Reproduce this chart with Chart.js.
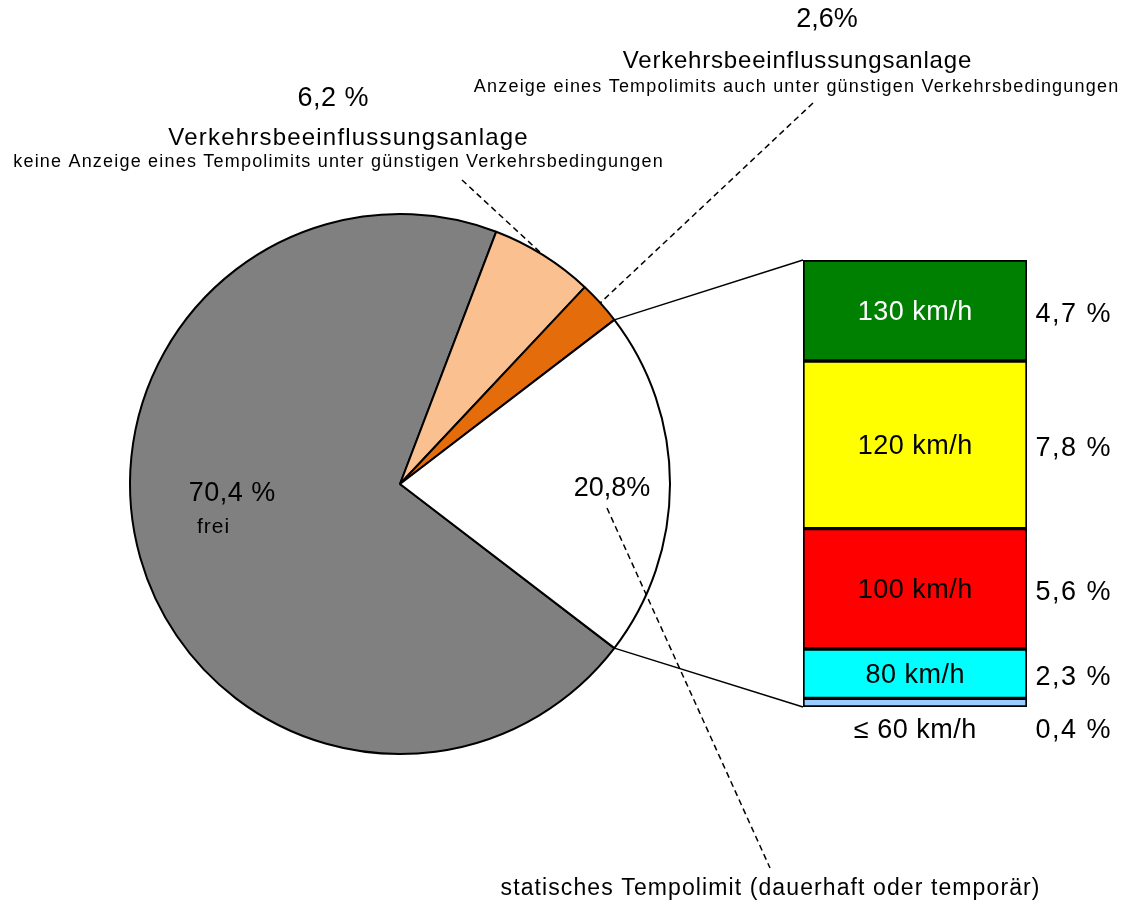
<!DOCTYPE html>
<html>
<head>
<meta charset="utf-8">
<script src="https://cdn.jsdelivr.net/npm/chart.js@4.4.0/dist/chart.umd.min.js"></script>
<style>
  body { margin: 0; background: #fff; }
  #wrap { position: relative; width: 1131px; height: 911px; }
  #wrap canvas { position: absolute; left: 0; top: 0; }
</style>
</head>
<body>
<div id="wrap">
  <canvas id="pie" width="1131" height="911"></canvas>
  <canvas id="bar" width="1131" height="911"></canvas>
</div>
<script>
// ---------- Kreis: Anteile der Streckenlänge ----------
const pieLabels = ["frei", "VBA ohne Anzeige", "VBA mit Anzeige", "statisches Tempolimit"];
const pieValues = [70.4, 6.2, 2.6, 20.8];
const pieTexts = ["70,4 %", "6,2 %", "2,6%", "20,8%"];
const pieColors = ["#808080", "#FAC090", "#E46C0A", "#FFFFFF"];

// ---------- Balken: statische Tempolimits ----------
const barLabels = ["≤ 60 km/h", "80 km/h", "100 km/h", "120 km/h", "130 km/h"];
const barValues = [0.4, 2.3, 5.6, 7.8, 4.7];
const barTexts = ["0,4 %", "2,3 %", "5,6 %", "7,8 %", "4,7 %"];
const barColors = ["#99CCFF", "#00FFFF", "#FF0000", "#FFFF00", "#008000"];
const barTextColors = ["#000", "#000", "#000", "#000", "#fff"];

const FONT = "'Liberation Sans', Arial, Helvetica, sans-serif";
const total = pieValues.reduce((a, b) => a + b, 0);
const barTotal = barValues.reduce((a, b) => a + b, 0);

const pieChart = new Chart(document.getElementById("pie"), {
  type: "pie",
  data: {
    labels: pieLabels,
    datasets: [{
      data: pieValues,
      backgroundColor: pieColors,
      borderColor: "#000",
      borderWidth: 2
    }]
  },
  options: {
    responsive: false,
    animation: false,
    devicePixelRatio: 1,
    // weißes Segment symmetrisch um die 3-Uhr-Position
    rotation: 90 + (pieValues[3] / 2) / total * 360,
    layout: { padding: { left: 129, right: 460, top: 213, bottom: 156 } },
    plugins: { legend: { display: false }, tooltip: { enabled: false } }
  }
});

function txt(ctx, s, x, y, size, color, spacing) {
  ctx.font = size + "px " + FONT;
  ctx.letterSpacing = (spacing || 0) + "px";
  ctx.fillStyle = color || "#000";
  ctx.textAlign = "center";
  ctx.textBaseline = "middle";
  ctx.fillText(s, x + (spacing || 0) / 2, y);
}

const overlay = {
  id: "overlay",
  afterDraw(chart) {
    const ctx = chart.ctx;
    const arcs = pieChart.getDatasetMeta(0).data;
    const segs = barValues.map((v, i) => chart.getDatasetMeta(i).data[0]);
    const left = segs[0].x - segs[0].width / 2;
    const top = segs[segs.length - 1].y;
    const bottom = segs[0].base;

    const edge = (arc, ang) => ({
      x: arc.x + Math.cos(ang) * arc.outerRadius,
      y: arc.y + Math.sin(ang) * arc.outerRadius
    });

    ctx.save();
    // Verbindungslinien Kreis -> Balken
    const w = arcs[3];
    const p1 = edge(w, w.startAngle), p2 = edge(w, w.endAngle);
    ctx.strokeStyle = "#000";
    ctx.lineWidth = 1.5;
    ctx.beginPath();
    ctx.moveTo(p1.x, p1.y); ctx.lineTo(left, top);
    ctx.moveTo(p2.x, p2.y); ctx.lineTo(left, bottom);
    ctx.stroke();

    // gestrichelte Hinweislinien
    const m1 = edge(arcs[1], (arcs[1].startAngle + arcs[1].endAngle) / 2);
    const m2 = edge(arcs[2], (arcs[2].startAngle + arcs[2].endAngle) / 2);
    ctx.setLineDash([6, 4]);
    ctx.beginPath();
    ctx.moveTo(462, 180); ctx.lineTo(m1.x, m1.y);
    ctx.moveTo(813, 103); ctx.lineTo(m2.x, m2.y);
    ctx.moveTo(607, 508); ctx.lineTo(770, 868);
    ctx.stroke();
    ctx.setLineDash([]);

    // Beschriftung Kreis
    txt(ctx, pieTexts[0], 232, 494, 27, null, 0.5);
    txt(ctx, "frei", 213, 527, 21, null, 1);
    txt(ctx, pieTexts[3], 612, 489, 27);
    txt(ctx, pieTexts[1], 333, 99, 27, null, 0.5);
    txt(ctx, "Verkehrsbeeinflussungsanlage", 348, 138, 24, null, 1.2);
    txt(ctx, "keine Anzeige eines Tempolimits unter günstigen Verkehrsbedingungen", 338, 162, 18, null, 1.2);
    txt(ctx, pieTexts[2], 827, 20, 27);
    txt(ctx, "Verkehrsbeeinflussungsanlage", 797, 61, 24, null, 0.8);
    txt(ctx, "Anzeige eines Tempolimits auch unter günstigen Verkehrsbedingungen", 796, 87, 18, null, 1.2);
    txt(ctx, "statisches Tempolimit (dauerhaft oder temporär)", 770, 889, 23, null, 1.1);

    // Beschriftung Balken
    segs.forEach((s, i) => {
      const cy = (s.y + s.base) / 2;
      if (i === 0) {
        txt(ctx, barLabels[i], s.x, bottom + 24, 27, null, 0.5);
        txt(ctx, barTexts[i], 1073, bottom + 24, 27, null, 1.5);
      } else {
        txt(ctx, barLabels[i], s.x, cy + 2, 27, barTextColors[i], 0.5);
        txt(ctx, barTexts[i], 1073, cy + 4, 27, null, 1.5);
      }
    });
    ctx.restore();
  }
};

new Chart(document.getElementById("bar"), {
  type: "bar",
  data: {
    labels: [""],
    datasets: barValues.map((v, i) => ({
      label: barLabels[i],
      data: [v],
      backgroundColor: barColors[i],
      borderColor: "#000",
      borderWidth: 2,
      borderSkipped: false,
      barPercentage: 1,
      categoryPercentage: 1
    }))
  },
  options: {
    responsive: false,
    animation: false,
    devicePixelRatio: 1,
    layout: { padding: { left: 803, right: 104, top: 260, bottom: 204 } },
    scales: {
      x: { stacked: true, display: false },
      y: { stacked: true, display: false, min: 0, max: barTotal }
    },
    plugins: { legend: { display: false }, tooltip: { enabled: false } }
  },
  plugins: [overlay]
});
</script>
</body>
</html>
